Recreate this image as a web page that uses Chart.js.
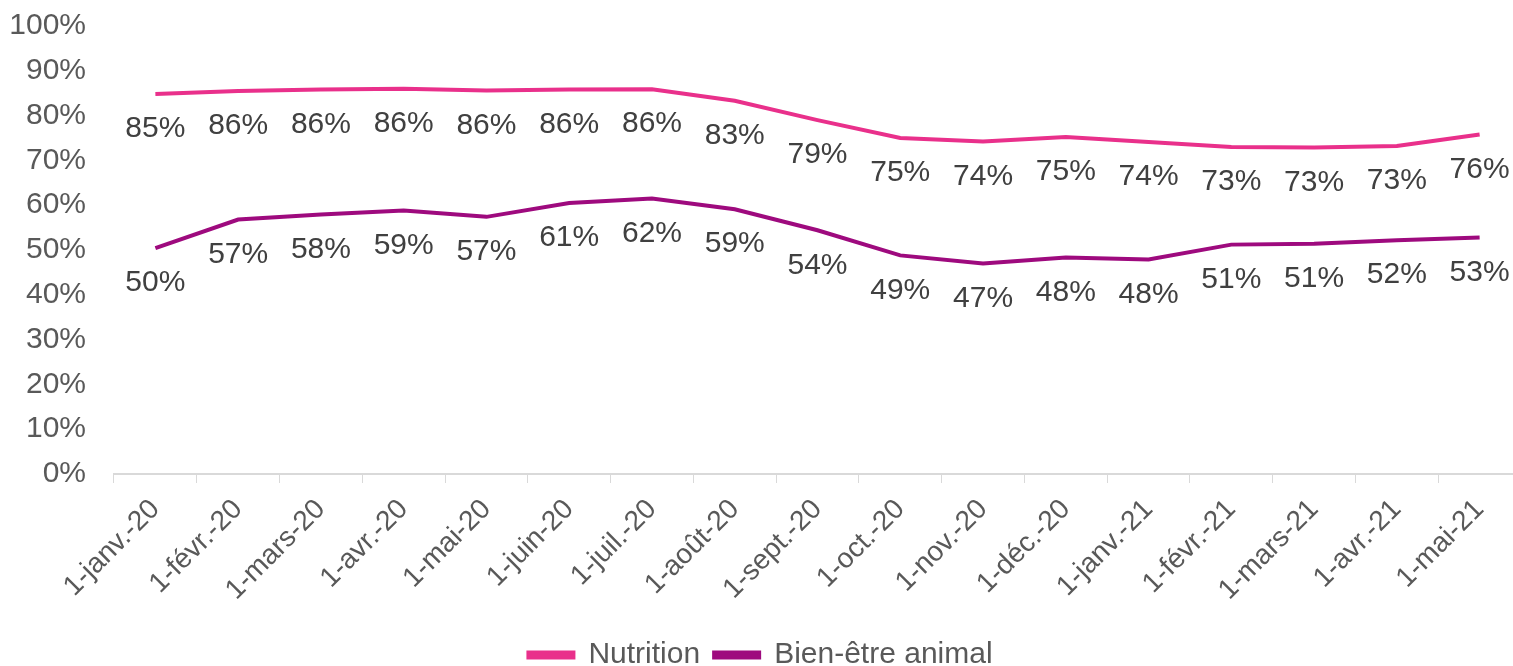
<!DOCTYPE html>
<html>
<head>
<meta charset="utf-8">
<script src="https://cdn.jsdelivr.net/npm/chart.js@4"></script>
<style>
  html, body { margin: 0; padding: 0; background: #fff; overflow: hidden; }
  #wrap { width: 1521px; height: 666px; }
</style>
</head>
<body>
<div id="wrap"><canvas id="chart"></canvas></div>
<script>
// Catégories (mois)
const mois = ['1-janv.-20', '1-févr.-20', '1-mars-20', '1-avr.-20', '1-mai-20', '1-juin-20',
  '1-juil.-20', '1-août-20', '1-sept.-20', '1-oct.-20', '1-nov.-20', '1-déc.-20',
  '1-janv.-21', '1-févr.-21', '1-mars-21', '1-avr.-21', '1-mai-21'];

// Valeurs des séries (%)
const nutrition = [84.8, 85.5, 85.8, 86.0, 85.6, 85.8, 85.9, 83.3, 79.0, 75.0, 74.2, 75.2, 74.1, 73.0, 72.9, 73.2, 75.8];
const bienEtre = [50.4, 56.8, 57.9, 58.8, 57.4, 60.5, 61.5, 59.1, 54.4, 48.8, 47.0, 48.3, 47.9, 51.2, 51.4, 52.2, 52.8];

// Graduations de l'axe Y
const yTicks = [0, 10, 20, 30, 40, 50, 60, 70, 80, 90, 100];

const police = "'Liberation Sans', Arial, sans-serif";

// Plugin simple pour afficher les étiquettes sous chaque point
const etiquettes = {
  id: 'etiquettes',
  afterDatasetsDraw(chart) {
    const ctx = chart.ctx;
    ctx.save();
    ctx.font = '30px ' + police;
    ctx.fillStyle = '#404040';
    ctx.textAlign = 'center';
    ctx.textBaseline = 'middle';
    chart.data.datasets.forEach((ds, i) => {
      const meta = chart.getDatasetMeta(i);
      meta.data.forEach((pt, j) => {
        ctx.fillText(Math.round(ds.data[j]) + '%', pt.x, pt.y + 35);
      });
    });
    ctx.restore();
  }
};

new Chart(document.getElementById('chart'), {
  type: 'line',
  data: {
    labels: mois,
    datasets: [
      {
        label: 'Nutrition',
        data: nutrition,
        borderColor: '#E9308B',
        backgroundColor: '#E9308B',
        borderWidth: 4,
        pointRadius: 0,
        tension: 0,
      },
      {
        label: 'Bien-être animal',
        data: bienEtre,
        borderColor: '#9E0A7E',
        backgroundColor: '#9E0A7E',
        borderWidth: 4,
        pointRadius: 0,
        tension: 0,
      },
    ],
  },
  options: {
    responsive: true,
    maintainAspectRatio: false,
    animation: false,
    layout: { padding: { top: 26, right: 0, left: 0, bottom: -14 } },
    plugins: {
      tooltip: { enabled: false },
      legend: {
        position: 'bottom',
        labels: {
          font: { family: police, size: 30 },
          color: '#595959',
          boxWidth: 45,
          boxHeight: 5,
          padding: 14,
        },
      },
    },
    scales: {
      x: {
        offset: true,
        afterFit(axis) { axis.height = 152; },
        grid: {
          display: true,
          drawOnChartArea: false,
          drawTicks: true,
          tickLength: 9,
          color: '#d9d9d9',
          offset: true,
        },
        border: { display: true, color: '#d9d9d9', width: 2 },
        ticks: {
          font: { family: police, size: 28 },
          color: '#595959',
          maxRotation: 45,
          minRotation: 45,
          autoSkip: false,
          padding: 10,
        },
      },
      y: {
        min: 0,
        max: 100,
        afterFit(axis) {
          axis.width = 114;
          axis.paddingTop = 0;
          axis.paddingBottom = 0;
        },
        afterBuildTicks(axis) {
          axis.ticks = yTicks.map(v => ({ value: v }));
        },
        grid: { display: false, drawTicks: false },
        border: { display: false },
        ticks: {
          font: { family: police, size: 30 },
          color: '#595959',
          padding: 28,
          callback: v => v + '%',
        },
      },
    },
  },
  plugins: [etiquettes],
});
</script>
</body>
</html>
